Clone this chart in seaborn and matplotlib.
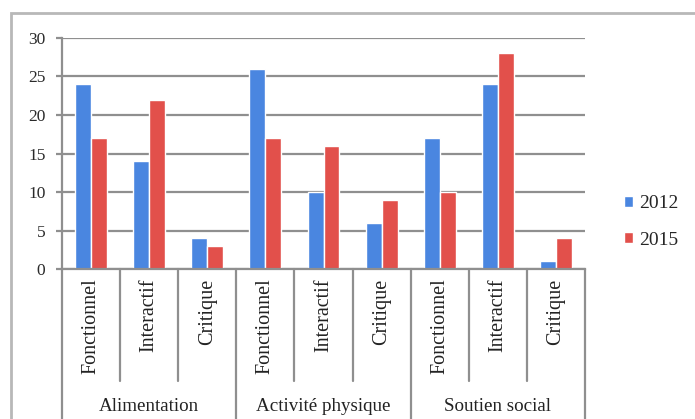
import matplotlib
matplotlib.use("Agg")
import matplotlib.pyplot as plt
import matplotlib.transforms as mtransforms
from matplotlib.patches import Rectangle, Patch
from matplotlib.lines import Line2D
import seaborn as sns
import pandas as pd

groups = ["Alimentation", "Activité physique", "Soutien social"]
levels = ["Fonctionnel", "Interactif", "Critique"]
years = ["2012", "2015"]
values_2012 = [24, 14, 4, 26, 10, 6, 17, 24, 1]
values_2015 = [17, 22, 3, 17, 16, 9, 10, 28, 4]
y_ticks = [0, 5, 10, 15, 20, 25, 30]

keys = [f"{g}|{l}" for g in groups for l in levels]
rows = []
for k, v in zip(keys, values_2012):
    rows.append({"key": k, "year": "2012", "value": v})
for k, v in zip(keys, values_2015):
    rows.append({"key": k, "year": "2015", "value": v})
df = pd.DataFrame(rows)

sns.set_style("white")
plt.rcParams["font.family"] = ["Liberation Serif", "DejaVu Serif"]

blue = "#4a86e0"
red = "#e2504b"
grid_c = "#8f8f8f"

W, H = 695, 419
fig = plt.figure(figsize=(W / 100, H / 100), dpi=100)
ax = fig.add_axes([62 / W, 1 - 269 / H, (585 - 62) / W, (269 - 38) / H])

sns.barplot(data=df, x="key", y="value", hue="year", order=keys,
            hue_order=years, palette=[blue, red], width=0.55,
            ax=ax, legend=False, saturation=1)

ax.set_ylim(0, 30)
ax.set_xlim(-0.5, len(keys) - 0.5)
ax.set_yticks(y_ticks)
ax.set_yticklabels([str(t) for t in y_ticks], fontsize=12.5, color="#2a2a2a")
ax.yaxis.grid(True, color=grid_c, linewidth=1.6)
ax.set_axisbelow(True)
ax.set_xlabel("")
ax.set_ylabel("")
for s in ["top", "right"]:
    ax.spines[s].set_visible(False)
ax.spines["left"].set_color(grid_c)
ax.spines["left"].set_linewidth(1.6)
ax.spines["bottom"].set_color(grid_c)
ax.spines["bottom"].set_linewidth(1.6)
ax.tick_params(axis="y", length=4, color=grid_c, width=1.6, pad=8, left=True)

ax.set_xticks(range(len(keys)))
ax.set_xticklabels([k.split("|")[1] for k in keys], rotation=90,
                   fontsize=14.5, color="#222222", va="top")
ax.tick_params(axis="x", length=0, pad=7)

trans = mtransforms.blended_transform_factory(ax.transData, ax.transAxes)
axh = 269 - 38
for i in range(len(keys) + 1):
    xpos = i - 0.5
    if i % 3 == 0:
        yb = (269 - 425) / axh
    else:
        yb = (269 - 381) / axh
    ax.add_line(Line2D([xpos, xpos], [0, yb], transform=trans,
                       color=grid_c, linewidth=1.6, clip_on=False))

for gi, g in enumerate(groups):
    ax.text(gi * 3 + 1, (269 - 406) / axh, g, transform=trans,
            ha="center", va="center", fontsize=13.7, color="#222222")

handles = [Patch(facecolor=blue), Patch(facecolor=red)]
fig.legend(handles, years, loc="center left",
           bbox_to_anchor=(606 / W, 1 - 222 / H), frameon=False,
           handlelength=0.5, handleheight=0.5, handletextpad=0.3,
           labelspacing=1.0, prop={"size": 14})

fig.patches.append(Rectangle((11 / W, -0.2), 1.2, 1 - 13 / H + 0.2,
                             transform=fig.transFigure, fill=False,
                             edgecolor="#b8b8b8", linewidth=2))

fig.savefig("out.png", dpi=100)
